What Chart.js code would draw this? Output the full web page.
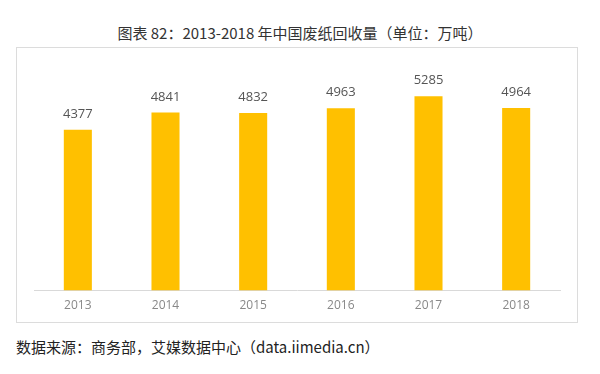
<!DOCTYPE html>
<html lang="zh">
  <head>
    <meta charset="UTF-8" />
    <title>2013-2018 年中国废纸回收量</title>
    <script src="https://cdn.jsdelivr.net/npm/chart.js"></script>
    <style>
      body {
        margin: 0;
        width: 600px;
        height: 374px;
        background: #fff;
        font-family: "Noto Sans CJK SC", "Noto Sans", sans-serif;
        position: relative;
        overflow: hidden;
      }
      .title {
        position: absolute;
        top: 22px;
        left: 0;
        width: 600px;
        text-align: center;
        font-size: 15px;
        color: #333;
      }
      .box {
        position: absolute;
        left: 16px;
        top: 47px;
        width: 560px;
        height: 274px;
        border: 1px solid #dcdcdc;
      }
      .source {
        position: absolute;
        left: 16px;
        top: 336px;
        font-size: 15px;
        color: #222;
      }
    </style>
  </head>
  <body>
    <div class="title">图表 82：2013-2018 年中国废纸回收量（单位：万吨）</div>
    <div class="box"><canvas id="chart" width="560" height="274"></canvas></div>
    <div class="source">数据来源：商务部，艾媒数据中心（data.iimedia.cn）</div>

    <script>
      const years = ["2013", "2014", "2015", "2016", "2017", "2018"];
      const recycled = [4377, 4841, 4832, 4963, 5285, 4964];

      // value labels above each bar
      const barLabels = {
        id: "barLabels",
        afterDatasetsDraw(chart) {
          const ctx = chart.ctx;
          const meta = chart.getDatasetMeta(0);
          ctx.save();
          ctx.font = "13px 'Open Sans', sans-serif";
          ctx.fillStyle = "#555";
          ctx.textAlign = "center";
          ctx.textBaseline = "bottom";
          meta.data.forEach((bar, i) => {
            ctx.fillText(recycled[i], bar.x, bar.y - 9);
          });
          ctx.restore();
        },
      };

      new Chart(document.getElementById("chart"), {
        type: "bar",
        data: {
          labels: years,
          datasets: [
            {
              data: recycled,
              backgroundColor: "#FFC000",
              categoryPercentage: 1,
              barPercentage: 0.32,
            },
          ],
        },
        options: {
          responsive: false,
          animation: false,
          layout: { padding: { left: 17, right: 17, top: 22, bottom: 1 } },
          plugins: { legend: { display: false }, tooltip: { enabled: false } },
          scales: {
            x: {
              grid: { display: false, drawTicks: false },
              border: { display: true, color: "#d9d9d9" },
              ticks: {
                color: "#888",
                padding: 8,
                font: { size: 12, family: "'Open Sans', sans-serif" },
              },
            },
            y: {
              display: false,
              min: 0,
              max: 6000,
            },
          },
        },
        plugins: [barLabels],
      });
    </script>
  </body>
</html>
